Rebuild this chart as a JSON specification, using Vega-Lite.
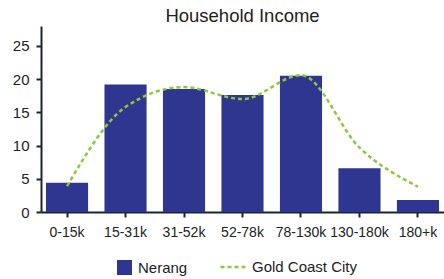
{
  "$schema": "https://vega.github.io/schema/vega-lite/v6.json",
  "width": 403,
  "height": 186,
  "autosize": "none",
  "padding": {"left": 41, "top": 26, "right": 0, "bottom": 67},
  "background": "white",
  "config": {
    "view": {"stroke": null},
    "font": "Liberation Sans",
    "axis": {"domainColor": "#1b2434", "domainWidth": 2, "tickColor": "#1b2434", "tickWidth": 2, "tickSize": 5, "labelColor": "#222222", "labelFont": "Liberation Sans", "grid": false, "title": null}
  },
  "title": {"text": "Household Income", "fontSize": 18.5, "font": "Liberation Sans", "fontWeight": "normal", "color": "#222222", "anchor": "middle", "baseline": "alphabetic", "offset": 3, "dy": 17},
  "data": {"values": [
    {"cat": "0-15k", "series": "Nerang", "value": 4.4},
    {"cat": "15-31k", "series": "Nerang", "value": 19.2},
    {"cat": "31-52k", "series": "Nerang", "value": 18.5},
    {"cat": "52-78k", "series": "Nerang", "value": 17.6},
    {"cat": "78-130k", "series": "Nerang", "value": 20.5},
    {"cat": "130-180k", "series": "Nerang", "value": 6.6},
    {"cat": "180+k", "series": "Nerang", "value": 1.8},
    {"cat": "0-15k", "series": "Gold Coast City", "value": 3.9},
    {"cat": "15-31k", "series": "Gold Coast City", "value": 15.8},
    {"cat": "31-52k", "series": "Gold Coast City", "value": 18.8},
    {"cat": "52-78k", "series": "Gold Coast City", "value": 17.0},
    {"cat": "78-130k", "series": "Gold Coast City", "value": 20.6},
    {"cat": "130-180k", "series": "Gold Coast City", "value": 9.7},
    {"cat": "180+k", "series": "Gold Coast City", "value": 3.8}
  ]},
  "encoding": {
    "x": {"field": "cat", "type": "nominal", "sort": null,
      "scale": {"paddingInner": 0.28, "paddingOuter": 0.085},
      "axis": {"labelAngle": 0, "labelFontSize": 14, "labelPadding": 8}},
    "y": {"field": "value", "type": "quantitative",
      "scale": {"domain": [0, 28], "nice": false},
      "axis": {"values": [0, 5, 10, 15, 20, 25], "labelFontSize": 15, "labelPadding": 7}}
  },
  "layer": [
    {
      "transform": [{"filter": "datum.series === 'Nerang'"}],
      "mark": {"type": "bar"},
      "encoding": {
        "fill": {"field": "series", "type": "nominal",
          "scale": {"domain": ["Nerang"], "range": ["#2e368f"]},
          "legend": {"title": null, "orient": "none", "legendX": 76, "legendY": 234, "symbolType": "square", "symbolSize": 225, "symbolStrokeWidth": 0, "labelFontSize": 15, "labelColor": "#222222", "labelOffset": 6, "padding": 0}}
      }
    },
    {
      "transform": [{"filter": "datum.series === 'Gold Coast City'"}],
      "mark": {"type": "line", "interpolate": "monotone", "strokeWidth": 2.5, "strokeDash": [4, 3]},
      "encoding": {
        "stroke": {"field": "series", "type": "nominal",
          "scale": {"domain": ["Gold Coast City"], "range": ["#8dc63f"]},
          "legend": {"title": null, "orient": "none", "legendX": 178, "legendY": 227, "symbolType": "stroke", "symbolSize": 625, "symbolStrokeWidth": 2.5, "symbolDash": [4, 3], "labelFontSize": 15, "labelColor": "#222222", "labelOffset": 5, "padding": 0}}
      }
    }
  ]
}
